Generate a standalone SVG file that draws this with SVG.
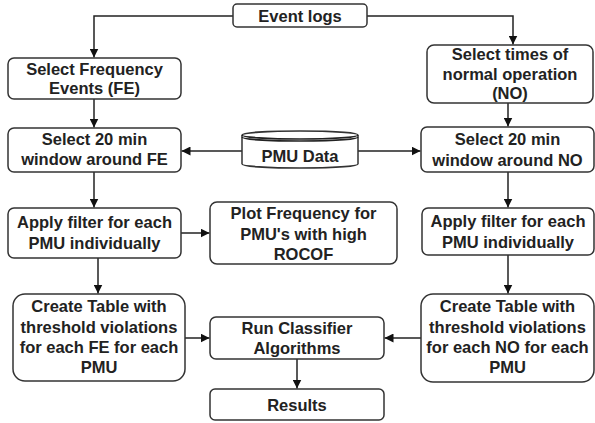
<svg xmlns="http://www.w3.org/2000/svg" width="595" height="423" viewBox="0 0 595 423">
<defs>
<style>
.box{fill:#fff;stroke:#333;stroke-width:1.5}
.t{font-family:"Liberation Sans",Arial,sans-serif;font-weight:bold;font-size:16.5px;fill:#222;text-anchor:middle}
.c{fill:none;stroke:#222;stroke-width:1.5}
</style>
<marker id="ah" viewBox="0 0 10 10" refX="10" refY="5" markerWidth="9" markerHeight="9" markerUnits="userSpaceOnUse" orient="auto">
<path d="M0,0 L10,5 L0,10 z" fill="#111"/>
</marker>
</defs>
<g id="connectors">
<path class="c" d="M233,16 H94 V57.5" marker-end="url(#ah)"/>
<path class="c" d="M367,16 H513 V44.5" marker-end="url(#ah)"/>
<path class="c" d="M94,99 V127.5" marker-end="url(#ah)"/>
<path class="c" d="M508,103 V126.5" marker-end="url(#ah)"/>
<path class="c" d="M242,151 H181.5" marker-end="url(#ah)"/>
<path class="c" d="M358,151 H420.5" marker-end="url(#ah)"/>
<path class="c" d="M94,172 V207.5" marker-end="url(#ah)"/>
<path class="c" d="M508,172 V207.5" marker-end="url(#ah)"/>
<path class="c" d="M181,233 H209.5" marker-end="url(#ah)"/>
<path class="c" d="M98,258 V293.5" marker-end="url(#ah)"/>
<path class="c" d="M508,255 V293.5" marker-end="url(#ah)"/>
<path class="c" d="M185,338 H209.5" marker-end="url(#ah)"/>
<path class="c" d="M421,338 H384.5" marker-end="url(#ah)"/>
<path class="c" d="M297,359 V388.5" marker-end="url(#ah)"/>
</g>
<g id="event-logs">
<rect class="box" x="233" y="4" width="134" height="23" rx="4"/>
<text class="t" x="300" y="22">Event logs</text>
</g>
<g id="select-fe">
<rect class="box" x="8" y="58" width="173" height="41" rx="6"/>
<text class="t" x="94.5" y="75">Select Frequency</text>
<text class="t" x="94.5" y="94">Events (FE)</text>
</g>
<g id="select-no">
<rect class="box" x="427" y="45" width="166" height="58" rx="7"/>
<text class="t" x="510" y="60">Select times of</text>
<text class="t" x="510" y="79.5">normal operation</text>
<text class="t" x="510" y="99">(NO)</text>
</g>
<g id="window-fe">
<rect class="box" x="8" y="128" width="173" height="44" rx="6"/>
<text class="t" x="94.5" y="145">Select 20 min</text>
<text class="t" x="94.5" y="165">window around FE</text>
</g>
<g id="pmu-data">
<path class="box" d="M242,135 A58,4 0 0 1 358,135 V164 A58,4 0 0 1 242,164 Z"/>
<path class="c" d="M242,135 A58,4 0 0 0 358,135"/>
<path class="c" d="M242,137 A58,4 0 0 0 358,137" stroke-width="0.8"/>
<text class="t" x="300" y="162">PMU Data</text>
</g>
<g id="window-no">
<rect class="box" x="421" y="127" width="173" height="45" rx="6"/>
<text class="t" x="507.5" y="145">Select 20 min</text>
<text class="t" x="507.5" y="165.5">window around NO</text>
</g>
<g id="filter-fe">
<rect class="box" x="8" y="208" width="173" height="50" rx="6"/>
<text class="t" x="94.5" y="228">Apply filter for each</text>
<text class="t" x="94.5" y="249">PMU individually</text>
</g>
<g id="plot">
<rect class="box" x="210" y="202" width="187" height="62" rx="7"/>
<text class="t" x="303.5" y="219">Plot Frequency for</text>
<text class="t" x="303.5" y="239.5">PMU's with high</text>
<text class="t" x="303.5" y="260">ROCOF</text>
</g>
<g id="filter-no">
<rect class="box" x="422" y="208" width="172" height="47" rx="6"/>
<text class="t" x="508" y="227">Apply filter for each</text>
<text class="t" x="508" y="248">PMU individually</text>
</g>
<g id="table-fe">
<rect class="box" x="13" y="294" width="172" height="87" rx="12"/>
<text class="t" x="99" y="312">Create Table with</text>
<text class="t" x="99" y="332.5">threshold violations</text>
<text class="t" x="99" y="353">for each FE for each</text>
<text class="t" x="99" y="373">PMU</text>
</g>
<g id="table-no">
<rect class="box" x="421" y="294" width="173" height="88" rx="12"/>
<text class="t" x="507.5" y="312">Create Table with</text>
<text class="t" x="507.5" y="332.5">threshold violations</text>
<text class="t" x="507.5" y="353">for each NO for each</text>
<text class="t" x="507.5" y="373">PMU</text>
</g>
<g id="classifier">
<rect class="box" x="210" y="317" width="174" height="42" rx="6"/>
<text class="t" x="297" y="333.5">Run Classifier</text>
<text class="t" x="297" y="353.5">Algorithms</text>
</g>
<g id="results">
<rect class="box" x="210" y="389" width="174" height="31" rx="5"/>
<text class="t" x="297" y="411">Results</text>
</g>
</svg>
